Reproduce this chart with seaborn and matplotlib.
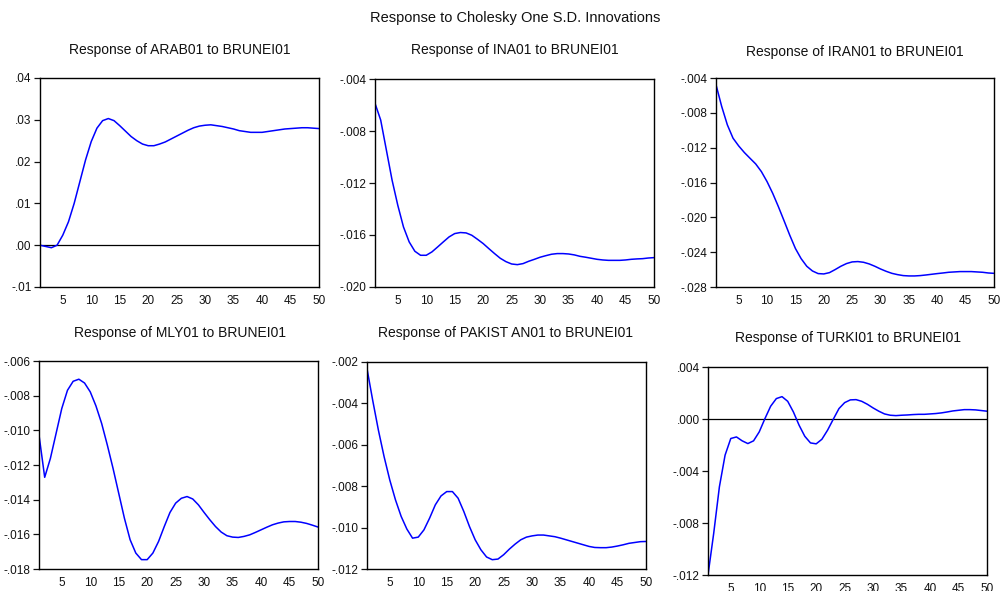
import numpy as np
import pandas as pd
import matplotlib
matplotlib.use("Agg")
import matplotlib.pyplot as plt
import seaborn as sns

sns.set_theme(style="white")
plt.rcParams["font.family"] = ["Liberation Sans", "DejaVu Sans"]

periods = list(range(1, 51))

arab = [0.0000, -0.0003, -0.0006, 0.0000, 0.0024, 0.0056, 0.0100, 0.0152, 0.0204, 0.0248,
        0.0280, 0.0298, 0.0303, 0.0298, 0.0286, 0.0273, 0.0260, 0.0250, 0.0242, 0.0238,
        0.0238, 0.0242, 0.0247, 0.0254, 0.0261, 0.0268, 0.0275, 0.0281, 0.0285, 0.0287,
        0.0288, 0.0286, 0.0284, 0.0281, 0.0278, 0.0274, 0.0272, 0.0270, 0.0270, 0.0270,
        0.0272, 0.0274, 0.0276, 0.0278, 0.0279, 0.0280, 0.0281, 0.0281, 0.0280, 0.0279]

ina = [-0.00587, -0.00716, -0.00947, -0.01178, -0.01371, -0.01538, -0.01653, -0.01725, -0.01756, -0.01756,
       -0.01730, -0.01692, -0.01653, -0.01615, -0.01589, -0.01581, -0.01584, -0.01602, -0.01633, -0.01666,
       -0.01705, -0.01743, -0.01779, -0.01805, -0.01823, -0.01828, -0.01820, -0.01802, -0.01787, -0.01771,
       -0.01759, -0.01748, -0.01743, -0.01743, -0.01746, -0.01753, -0.01764, -0.01771, -0.01779, -0.01787,
       -0.01792, -0.01795, -0.01795, -0.01795, -0.01792, -0.01787, -0.01784, -0.01782, -0.01777, -0.01774]

iran = [-0.00477, -0.00726, -0.00938, -0.01091, -0.01180, -0.01256, -0.01322, -0.01387, -0.01475, -0.01590,
        -0.01725, -0.01878, -0.02040, -0.02205, -0.02358, -0.02474, -0.02562, -0.02616, -0.02646, -0.02650,
        -0.02635, -0.02600, -0.02562, -0.02531, -0.02512, -0.02508, -0.02516, -0.02535, -0.02562, -0.02593,
        -0.02620, -0.02643, -0.02658, -0.02669, -0.02673, -0.02673, -0.02669, -0.02662, -0.02654, -0.02646,
        -0.02639, -0.02631, -0.02627, -0.02623, -0.02623, -0.02623, -0.02627, -0.02631, -0.02639, -0.02643]

mly = [-0.01027, -0.01271, -0.01162, -0.01018, -0.00874, -0.00769, -0.00717, -0.00705, -0.00727, -0.00778,
       -0.00859, -0.00960, -0.01085, -0.01219, -0.01363, -0.01507, -0.01631, -0.01708, -0.01746, -0.01746,
       -0.01708, -0.01641, -0.01555, -0.01474, -0.01420, -0.01392, -0.01382, -0.01396, -0.01430, -0.01474,
       -0.01516, -0.01555, -0.01587, -0.01608, -0.01616, -0.01618, -0.01612, -0.01603, -0.01589, -0.01574,
       -0.01559, -0.01545, -0.01535, -0.01528, -0.01526, -0.01526, -0.01530, -0.01537, -0.01547, -0.01558]

pakistan = [-0.00232, -0.00385, -0.00529, -0.00657, -0.00770, -0.00866, -0.00946, -0.01007, -0.01051, -0.01046,
            -0.01011, -0.00954, -0.00890, -0.00847, -0.00826, -0.00826, -0.00858, -0.00922, -0.00995, -0.01059,
            -0.01107, -0.01142, -0.01155, -0.01152, -0.01131, -0.01104, -0.01080, -0.01059, -0.01046, -0.01040,
            -0.01036, -0.01036, -0.01040, -0.01044, -0.01051, -0.01059, -0.01067, -0.01075, -0.01083, -0.01091,
            -0.01096, -0.01097, -0.01097, -0.01094, -0.01089, -0.01083, -0.01076, -0.01072, -0.01068, -0.01067]

turki = [-0.01200, -0.00880, -0.00522, -0.00278, -0.00150, -0.00138, -0.00168, -0.00189, -0.00168, -0.00099,
         0.00003, 0.00098, 0.00157, 0.00172, 0.00136, 0.00054, -0.00048, -0.00133, -0.00184, -0.00191,
         -0.00156, -0.00086, -0.00002, 0.00080, 0.00126, 0.00147, 0.00149, 0.00136, 0.00113, 0.00085,
         0.00060, 0.00039, 0.00029, 0.00026, 0.00029, 0.00031, 0.00034, 0.00036, 0.00036, 0.00039,
         0.00042, 0.00047, 0.00054, 0.00062, 0.00067, 0.00072, 0.00072, 0.00070, 0.00065, 0.00060]

titles = ["Response of ARAB01 to BRUNEI01", "Response of INA01 to BRUNEI01",
          "Response of IRAN01 to BRUNEI01", "Response of MLY01 to BRUNEI01",
          "Response of PAKIST AN01 to BRUNEI01", "Response of TURKI01 to BRUNEI01"]

y_ticks = [[-0.01, 0.00, 0.01, 0.02, 0.03, 0.04],
           [-0.020, -0.016, -0.012, -0.008, -0.004],
           [-0.028, -0.024, -0.020, -0.016, -0.012, -0.008, -0.004],
           [-0.018, -0.016, -0.014, -0.012, -0.010, -0.008, -0.006],
           [-0.012, -0.010, -0.008, -0.006, -0.004, -0.002],
           [-0.012, -0.008, -0.004, 0.000, 0.004]]
y_labels = [["-.01", ".00", ".01", ".02", ".03", ".04"],
            ["-.020", "-.016", "-.012", "-.008", "-.004"],
            ["-.028", "-.024", "-.020", "-.016", "-.012", "-.008", "-.004"],
            ["-.018", "-.016", "-.014", "-.012", "-.010", "-.008", "-.006"],
            ["-.012", "-.010", "-.008", "-.006", "-.004", "-.002"],
            ["-.012", "-.008", "-.004", ".000", ".004"]]
x_ticks = [5, 10, 15, 20, 25, 30, 35, 40, 45, 50]
zero_line = [True, False, False, False, False, True]

series = [arab, ina, iran, mly, pakistan, turki]

W, H = 1001, 591
fig = plt.figure(figsize=(W / 100, H / 100), dpi=100)
fig.patch.set_facecolor("white")

# panel boxes in pixels: left, top, right, bottom
boxes = [(40, 78, 319, 287), (375, 79, 654, 287), (716, 78, 994, 287),
         (39, 361, 318, 569), (367, 362, 646, 569), (708, 367, 987, 575)]
title_pos = [(180, 50), (515, 50), (855, 52), (180, 333), (506, 333), (848, 338)]

def px_rect(b):
    l, t, r, btm = b
    return [l / W, 1 - btm / H, (r - l) / W, (btm - t) / H]

fig.text(515 / W, 1 - 18 / H, "Response to Cholesky One S.D. Innovations",
         ha="center", va="center", fontsize=10.5, color="#111111")

for i in range(6):
    ax = fig.add_axes(px_rect(boxes[i]))
    df = pd.DataFrame({"period": periods, "response": series[i]})
    sns.lineplot(data=df, x="period", y="response", ax=ax, color="#0000ff", linewidth=1.1)
    if zero_line[i]:
        ax.axhline(0, color="black", linewidth=0.9, zorder=1)
    ax.set_xlim(1, 50)
    ax.set_ylim(y_ticks[i][0], y_ticks[i][-1])
    ax.set_xticks(x_ticks)
    ax.set_xticklabels([str(v) for v in x_ticks])
    ax.set_yticks(y_ticks[i])
    ax.set_yticklabels(y_labels[i])
    ax.set_xlabel("")
    ax.set_ylabel("")
    ax.tick_params(axis="x", length=0, pad=6, labelsize=8.5, colors="#111111")
    ax.tick_params(axis="y", length=4, width=0.9, direction="out", pad=2,
                   labelsize=8.5, colors="#111111", left=True)
    for s in ax.spines.values():
        s.set_visible(True)
        s.set_color("black")
        s.set_linewidth(1.0)
    ax.set_facecolor("white")
    tx, ty = title_pos[i]
    fig.text(tx / W, 1 - ty / H, titles[i], ha="center", va="center",
             fontsize=10, color="#111111")

fig.savefig("out.png", dpi=100)
